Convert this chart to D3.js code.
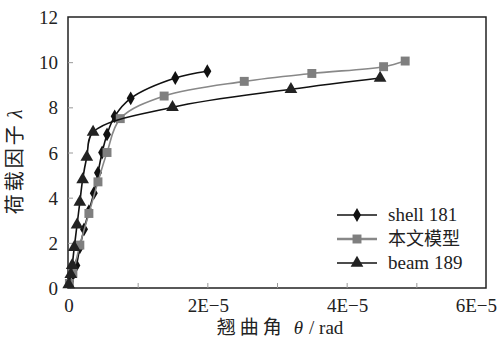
<!DOCTYPE html>
<html>
<head>
<meta charset="utf-8">
<script src="https://cdn.jsdelivr.net/npm/d3@7"></script>
<style>
  body { margin: 0; background: #fff; }
  svg text { font-family: "Liberation Serif", "Times New Roman", serif; }
  .cjk { font-family: "Noto Sans CJK SC", sans-serif; }
</style>
</head>
<body>
<svg id="ch" width="499" height="342"></svg>
<script>
// values in units of 1E-5 rad
var shellX = [0.03, 0.07, 0.12, 0.17, 0.23, 0.3, 0.37, 0.43, 0.49, 0.56, 0.67, 0.9, 1.54, 2.0];
var shellY = [0.3, 0.6, 1.0, 1.8, 2.6, 3.4, 4.2, 5.1, 6.0, 6.8, 7.6, 8.4, 9.3, 9.6];
var modelX = [0.02, 0.07, 0.17, 0.3, 0.43, 0.56, 0.75, 1.38, 2.53, 3.5, 4.53, 4.84];
var modelY = [0.2, 0.65, 1.9, 3.3, 4.7, 6.0, 7.5, 8.5, 9.15, 9.5, 9.8, 10.05];
var beamX = [0.01, 0.04, 0.06, 0.09, 0.13, 0.17, 0.21, 0.27, 0.36, 1.5, 3.2, 4.48];
var beamY = [0.15, 0.6, 1.0, 1.8, 2.8, 3.8, 4.8, 5.8, 6.9, 8.0, 8.8, 9.3];
var xTicks = [0, 2, 4, 6];
var xTickLabels = ["0", "2E\u22125", "4E\u22125", "6E\u22125"];
var yTicks = [0, 2, 4, 6, 8, 10, 12];
var seriesNames = ["shell 181", "本文模型", "beam 189"];

var margin = {top: 17, right: 13, bottom: 54, left: 68},
    width  = 499 - margin.left - margin.right,
    height = 342 - margin.top  - margin.bottom;

var svg = d3.select("#ch");
var g = svg.append("g").attr("transform", "translate(" + margin.left + "," + margin.top + ")");

var x = d3.scaleLinear().domain([0, 6]).range([0, width]);
var y = d3.scaleLinear().domain([0, 12]).range([height, 0]);

// frame
g.append("rect").attr("width", width).attr("height", height)
  .attr("fill", "none").attr("stroke", "#222").attr("stroke-width", 1.5);

// inward ticks
g.append("g").attr("transform", "translate(0," + height + ")")
  .call(d3.axisBottom(x).tickValues([1, 2, 3, 4, 5]).tickSize(-5).tickFormat(""))
  .call(function (s) { s.select(".domain").remove(); s.selectAll("line").attr("stroke", "#999"); });
g.append("g")
  .call(d3.axisLeft(y).tickValues([2, 4, 6, 8, 10]).tickSize(-5).tickFormat(""))
  .call(function (s) { s.select(".domain").remove(); s.selectAll("line").attr("stroke", "#999"); });

// tick labels (last one kept inside the picture)
g.selectAll(".xl").data(xTicks).enter().append("text")
  .attr("x", function (d, i) { return i == xTicks.length - 1 ? 499 - margin.left - 2 : x(d) + 1; })
  .attr("y", height + 24)
  .attr("text-anchor", function (d, i) { return i == xTicks.length - 1 ? "end" : "middle"; })
  .attr("font-size", 19).attr("fill", "#222")
  .text(function (d, i) { return xTickLabels[i]; });
g.selectAll(".yl").data(yTicks).enter().append("text")
  .attr("x", -10).attr("y", function (d) { return y(d) + 7; })
  .attr("text-anchor", "end").attr("font-size", 19).attr("fill", "#222")
  .text(function (d) { return d; });

// axis titles
var xt = svg.append("text").attr("x", 280).attr("y", 334).attr("text-anchor", "middle")
  .attr("font-size", 19).attr("fill", "#222");
xt.append("tspan").attr("class", "cjk").attr("letter-spacing", 4).text("翘曲角");
xt.append("tspan").attr("dx", 8).attr("font-style", "italic").text("θ");
xt.append("tspan").attr("dx", 6).text("/ rad");

var yt = svg.append("text").attr("transform", "translate(22,162) rotate(-90)")
  .attr("text-anchor", "middle").attr("font-size", 20).attr("fill", "#222");
yt.append("tspan").attr("class", "cjk").attr("letter-spacing", 3).text("荷载因子");
yt.append("tspan").attr("dx", 4).attr("font-style", "italic").text("λ");

var line = d3.line()
  .x(function (d) { return x(d[0]); })
  .y(function (d) { return y(d[1]); })
  .curve(d3.curveCatmullRom.alpha(0.5));

var series = [
  {name: seriesNames[0], xs: shellX, ys: shellY, stroke: "#111", fill: "#111", sym: d3.symbolDiamond, size: 55},
  {name: seriesNames[1], xs: modelX, ys: modelY, stroke: "#888", fill: "#7f7f7f", sym: d3.symbolSquare, size: 80},
  {name: seriesNames[2], xs: beamX, ys: beamY, stroke: "#111", fill: "#222", sym: d3.symbolTriangle, size: 70}
];

series.forEach(function (s) {
  var pts = s.xs.map(function (v, i) { return [v, s.ys[i]]; });
  g.append("path").attr("d", line(pts)).attr("fill", "none")
    .attr("stroke", s.stroke).attr("stroke-width", 1.6);
  g.selectAll(null).data(pts).enter().append("path")
    .attr("d", d3.symbol().type(s.sym).size(s.size))
    .attr("transform", function (d) { return "translate(" + x(d[0]) + "," + y(d[1]) + ")"; })
    .attr("fill", s.fill);
});

// legend
var lg = svg.append("g").attr("transform", "translate(337,215)");
series.forEach(function (s, i) {
  var row = lg.append("g").attr("transform", "translate(0," + (i * 24) + ")");
  row.append("line").attr("x1", 0).attr("x2", 40).attr("y1", 0).attr("y2", 0)
    .attr("stroke", s.stroke).attr("stroke-width", i == 1 ? 2.5 : 1.6);
  row.append("path").attr("d", d3.symbol().type(s.sym).size(s.size))
    .attr("transform", "translate(20,0)").attr("fill", s.fill);
  row.append("text").attr("x", 51).attr("y", 6).attr("font-size", i == 1 ? 18 : 19).attr("fill", "#222")
    .attr("class", i == 1 ? "cjk" : null).text(s.name);
});
</script>
</body>
</html>
